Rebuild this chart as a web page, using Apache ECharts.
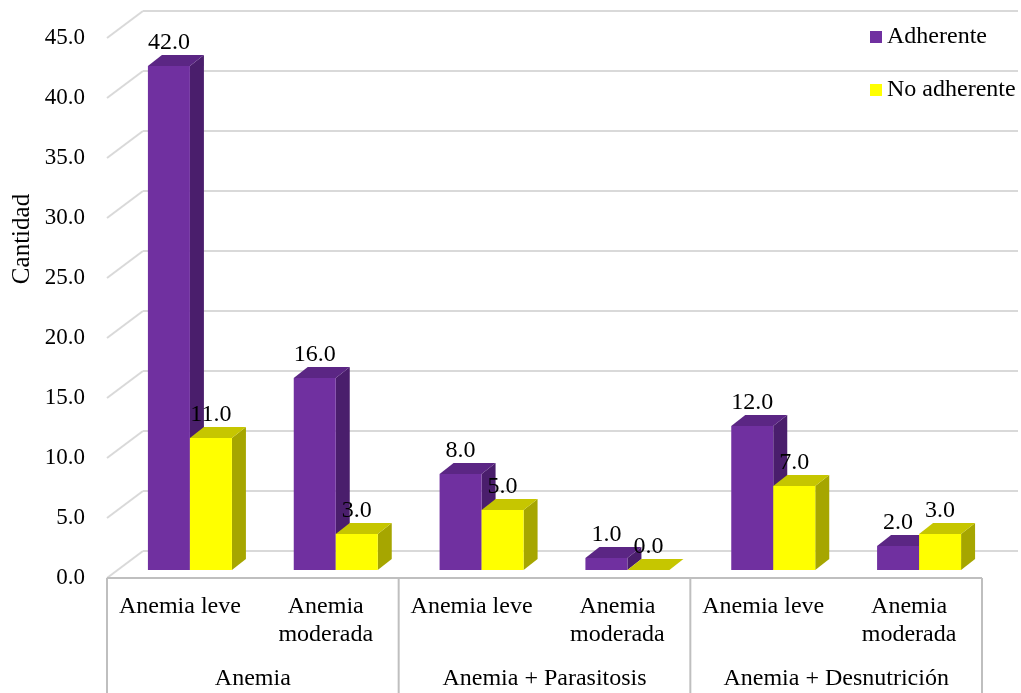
<!DOCTYPE html>
<html>
<head>
<meta charset="utf-8">
<script src="https://cdn.jsdelivr.net/npm/echarts@6/dist/echarts.min.js"></script>
<style>
  html, body { margin: 0; padding: 0; background: #fff; }
  #chart { width: 1021px; height: 693px; }
</style>
</head>
<body>
<div id="chart"></div>
<script>
// Sub-categories along the horizontal axis (two per group)
const categories = ['Anemia leve', 'Anemia\nmoderada', 'Anemia leve', 'Anemia\nmoderada', 'Anemia leve', 'Anemia\nmoderada'];
// Diagnosis groups shown on the second row of the axis
const groups = ['Anemia', 'Anemia + Parasitosis', 'Anemia + Desnutrición'];
// Counts per sub-category
const adherente = [42, 16, 8, 1, 12, 2];
const noAdherente = [11, 3, 5, 0, 7, 3];
// Value-axis ticks
const yTicks = [0, 5, 10, 15, 20, 25, 30, 35, 40, 45];

const FONT = '"Liberation Serif", "Times New Roman", serif';
const FS = 24;             // category, legend and value labels
const FS_TICK = 23;        // value-axis tick labels
const BAR_W = 42;          // front face width of each bar
const DEPTH = [14, 11];    // bar depth offset (dx, dy)
const WALL = [36, 27];     // offset from front plane to back wall

const palette = {
  adherente: { front: '#7030A0', top: '#5B2684', side: '#4A1E6C' },
  noAdherente: { front: '#FFFF00', top: '#C6C600', side: '#A6A600' }
};

function barRenderer(side, col) {
  return function (params, api) {
    const ci = api.value(0), v = api.value(1);
    const top = api.coord([ci, v]);
    const base = api.coord([ci, 0]);
    const x0 = side === 0 ? top[0] - BAR_W : top[0];
    const x1 = x0 + BAR_W;
    const yT = top[1], yB = base[1];
    const dx = DEPTH[0], dy = DEPTH[1];
    const children = [
      { type: 'polygon', shape: { points: [[x1, yT], [x1 + dx, yT - dy], [x1 + dx, yB - dy], [x1, yB]] },
        style: { fill: col.side } },
      { type: 'rect', shape: { x: x0, y: yT, width: BAR_W, height: yB - yT },
        style: { fill: col.front } },
      { type: 'polygon', shape: { points: [[x0, yT], [x0 + dx, yT - dy], [x1 + dx, yT - dy], [x1, yT]] },
        style: { fill: col.top } },
      { type: 'text', z2: 50,
        style: { text: v.toFixed(1), x: (x0 + x1) / 2, y: yT - 23, align: 'center', verticalAlign: 'middle',
                 font: FS + 'px ' + FONT, fill: '#000' } }
    ];
    return { type: 'group', children: children };
  };
}

// Diagonal edges linking each front-plane tick to its back-wall grid line
function wallEdgeRenderer(params, api) {
  const cs = params.coordSys;
  const p = api.coord([0, api.value(1)]);
  const x = cs.x, y = p[1];
  return { type: 'line', shape: { x1: x, y1: y, x2: x + WALL[0], y2: y - WALL[1] },
           style: { stroke: '#D9D9D9', lineWidth: 2 } };
}

// Floor front edge and the category table lines below it
function axisBoxRenderer(params, api) {
  const cs = params.coordSys;
  const band = api.size([1, 0])[0];
  const y0 = api.coord([0, 0])[1];
  const yEnd = 693;
  const children = [
    { type: 'line', shape: { x1: cs.x, y1: y0, x2: cs.x + cs.width, y2: y0 },
      style: { stroke: '#BFBFBF', lineWidth: 2 } }
  ];
  for (let i = 0; i <= categories.length; i += 2) {
    const x = cs.x + band * i;
    children.push({ type: 'line', shape: { x1: x, y1: y0, x2: x, y2: yEnd },
                    style: { stroke: '#BFBFBF', lineWidth: 2 } });
  }
  return { type: 'group', children: children };
}

const chart = echarts.init(document.getElementById('chart'), null, { renderer: 'canvas' });

const labelStyle = { color: '#000', fontFamily: FONT, fontSize: FS };

chart.setOption({
  animation: false,
  backgroundColor: '#fff',
  grid: [
    { left: 117, right: 29, top: 30, bottom: 123 },   // bars
    { left: 107, right: 39, top: 38, bottom: 115 },   // front plane: value labels, category table
    { left: 143, right: 3, top: 11, bottom: 142 }     // back wall grid lines
  ],
  xAxis: [
    { gridIndex: 0, type: 'category', data: categories, show: false },
    { gridIndex: 1, type: 'category', data: categories,
      axisLine: { show: false }, axisTick: { show: false }, splitLine: { show: false },
      axisLabel: Object.assign({ interval: 0, margin: 15, lineHeight: 28 }, labelStyle) },
    { gridIndex: 1, type: 'category', data: groups, position: 'bottom', offset: 72,
      axisLine: { show: false }, axisTick: { show: false }, splitLine: { show: false },
      axisLabel: Object.assign({ interval: 0, margin: 17 }, labelStyle) },
    { gridIndex: 2, type: 'category', data: categories, show: false }
  ],
  yAxis: [
    { gridIndex: 0, type: 'value', min: 0, max: 45, interval: 5, show: false },
    { gridIndex: 1, type: 'value', min: 0, max: 45, interval: 5,
      axisLine: { show: false }, axisTick: { show: false }, splitLine: { show: false },
      axisLabel: Object.assign({ margin: 22, formatter: v => v.toFixed(1) }, labelStyle, { fontSize: FS_TICK }) },
    { gridIndex: 2, type: 'value', min: 0, max: 45, interval: 5,
      axisLine: { show: false }, axisTick: { show: false }, axisLabel: { show: false },
      splitLine: { show: true, lineStyle: { color: '#D9D9D9', width: 2 } } }
  ],
  legend: {
    orient: 'vertical', left: 865, top: 20,
    itemWidth: 12, itemHeight: 12, itemGap: 29,
    textStyle: labelStyle,
    data: [{ name: 'Adherente', icon: 'rect' }, { name: 'No adherente', icon: 'rect' }]
  },
  graphic: [
    { type: 'text', x: 22, y: 239, rotation: Math.PI / 2,
      style: { text: 'Cantidad', font: '25px ' + FONT, fill: '#000', align: 'center', verticalAlign: 'middle' } }
  ],
  series: [
    { type: 'custom', name: 'wallEdges', xAxisIndex: 1, yAxisIndex: 1, z: 1,
      data: yTicks.map(v => [0, v]), renderItem: wallEdgeRenderer, silent: true },
    { type: 'custom', name: 'axisBox', xAxisIndex: 1, yAxisIndex: 1, z: 1,
      data: [[0, 0]], renderItem: axisBoxRenderer, silent: true },
    { type: 'custom', name: 'Adherente', xAxisIndex: 0, yAxisIndex: 0, z: 2,
      itemStyle: { color: palette.adherente.front },
      data: adherente.map((v, i) => [i, v]), renderItem: barRenderer(0, palette.adherente) },
    { type: 'custom', name: 'No adherente', xAxisIndex: 0, yAxisIndex: 0, z: 3,
      itemStyle: { color: palette.noAdherente.front },
      data: noAdherente.map((v, i) => [i, v]), renderItem: barRenderer(1, palette.noAdherente) }
  ]
});
</script>
</body>
</html>
